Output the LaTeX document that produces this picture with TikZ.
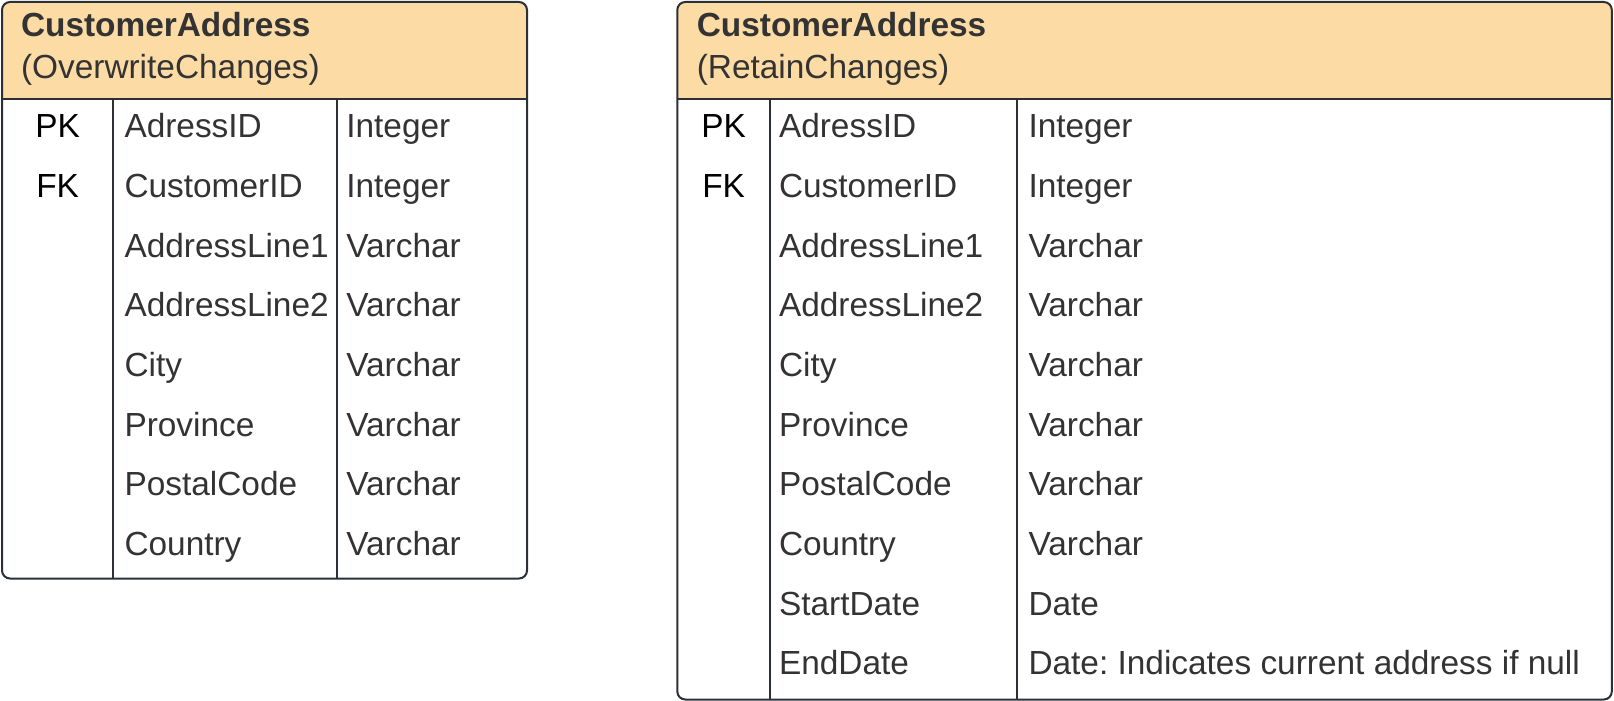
\documentclass[tikz,border=0pt]{standalone}
\usepackage{fontspec}
\setmainfont{Liberation Sans}
\definecolor{hdr}{HTML}{FDDBA5}
\definecolor{ln}{HTML}{2B2F36}
\definecolor{tx}{HTML}{333333}
\frenchspacing
\begin{document}
\begin{tikzpicture}[x=1pt,y=-1pt,line width=2pt,
  cell/.style={anchor=base west,inner sep=0pt,text=tx,font=\fontsize{33.4}{40}\selectfont},
  keycell/.style={anchor=base,inner sep=0pt,text=black,font=\fontsize{33.4}{40}\selectfont},
  title/.style={anchor=base west,inner sep=0pt,text=tx,font=\fontsize{33.4}{40}\selectfont\bfseries},
  subtitle/.style={anchor=base west,inner sep=0pt,text=tx,font=\fontsize{33.4}{40}\selectfont},
  frame/.style={draw=ln,rounded corners=8pt},
  rule/.style={draw=ln}]
\useasboundingbox (0,0) rectangle (1614,701);
% ---------- left table ----------
\fill[hdr] (2,99) [rounded corners=8pt] -- (2,2) -- (527,2) [sharp corners] -- (527,99) -- cycle;
\draw[frame] (2,2) rectangle (527,578.5);
\draw[rule] (2,99) -- (527,99);
\draw[rule] (113,99) -- (113,578.5);
\draw[rule] (337,99) -- (337,578.5);
\node[title] (Lt) at (20,36.5) {CustomerAddress};
\node[subtitle] (Ls) at (20,78) {(OverwriteChanges)};
\node[keycell] (Lpk) at (57.6,137.6) {PK};
\node[keycell] (Lfk) at (57.6,197.3) {FK};
\foreach \n/\t [count=\i] in {AdressID/Integer,CustomerID/Integer,AddressLine1/Varchar,AddressLine2/Varchar,City/Varchar,Province/Varchar,PostalCode/Varchar,Country/Varchar}{
  \node[cell] (Ln\i) at (123.5,{137.6+59.7*(\i-1)}) {\n};
  \node[cell] (Lt\i) at (345.3,{137.6+59.7*(\i-1)}) {\t};
}
% ---------- right table ----------
\fill[hdr] (677.3,99) [rounded corners=8pt] -- (677.3,2) -- (1611.8,2) [sharp corners] -- (1611.8,99) -- cycle;
\draw[frame] (677.3,2) rectangle (1611.8,699.5);
\draw[rule] (677.3,99) -- (1611.8,99);
\draw[rule] (770,99) -- (770,699.5);
\draw[rule] (1017,99) -- (1017,699.5);
\node[title] (Rt) at (695.8,36.5) {CustomerAddress};
\node[subtitle] (Rs) at (695.8,78) {(RetainChanges)};
\node[keycell] (Rpk) at (723.6,137.6) {PK};
\node[keycell] (Rfk) at (723.6,197.3) {FK};
\foreach \n/\t [count=\i] in {AdressID/Integer,CustomerID/Integer,AddressLine1/Varchar,AddressLine2/Varchar,City/Varchar,Province/Varchar,PostalCode/Varchar,Country/Varchar,StartDate/Date,EndDate/{Date: Indicates current address if null}}{
  \node[cell] (Rn\i) at (778,{137.6+59.7*(\i-1)}) {\n};
  \node[cell] (Rt\i) at (1027.5,{137.6+59.7*(\i-1)}) {\t};
}
\end{tikzpicture}
\end{document}
